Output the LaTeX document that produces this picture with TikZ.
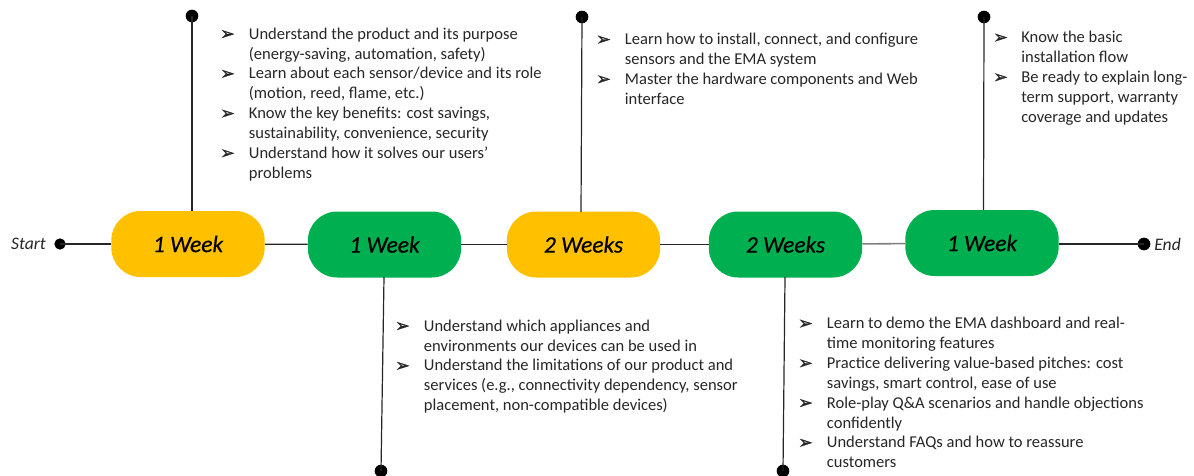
\documentclass[tikz,border=0pt]{standalone}
\usepackage{fontspec}
\setmainfont{Carlito}
\newfontfamily\dejavu[FakeBold=1.5]{DejaVu Sans}
\newfontfamily\pillfont[ItalicFont=Carlito Italic,ItalicFeatures={FakeBold=0.5}]{Carlito}
\newcommand{\blt}[1]{\makebox[#1][l]{\raisebox{-0.2pt}{\dejavu\fontsize{13}{10}\selectfont ➢}}}
\tikzset{x=0.75pt,y=-0.75pt,
  pill/.style={rounded corners=22pt,minimum width=115pt,minimum height=49.5pt,inner sep=0pt,font=\pillfont\fontsize{17.6}{20}\selectfont\itshape,text=black},
  gold/.style={pill,fill=goldc},
  green/.style={pill,fill=greenc},
  dotnode/.style={circle,fill=black,inner sep=0pt,minimum size=9.5pt},
  conn/.style={draw=linec,line width=0.9pt},
  tlabel/.style={inner sep=0pt,anchor=north west,align=left,font=\fontsize{12.4}{14.9}\selectfont,text=textc},
  endlabel/.style={inner sep=0pt,font=\fontsize{13.2}{15}\selectfont\itshape,text=textc}}
\definecolor{goldc}{HTML}{FFC000}
\definecolor{greenc}{HTML}{00B050}
\definecolor{linec}{HTML}{262626}
\definecolor{textc}{HTML}{262626}
\begin{document}
\begin{tikzpicture}
\useasboundingbox (0,0) rectangle (1194,475);
\node[gold] (p1) at (188,244) {1 Week};
\node[green] (p2) at (384.5,244.5) {1 Week};
\node[gold] (p3) at (583.5,244.5) {2 Weeks};
\node[green] (p4) at (785.5,244.5) {2 Weeks};
\node[green] (p5) at (982,243) {1 Week};
\node[dotnode,minimum size=8.5pt] (s) at (60,244) {};
\node[dotnode] (e) at (1144,244) {};
\node[dotnode] (d1) at (192,16) {};
\node[dotnode] (d3) at (582,17) {};
\node[dotnode] (d5) at (984,17) {};
\node[dotnode] (d2) at (381,471) {};
\node[dotnode] (d4) at (783,471) {};
\node[endlabel,anchor=east] (ls) at (46,244) {Start};
\node[endlabel,anchor=west] (le) at (1154,244) {End};
\coordinate (c1) at (192,211);
\coordinate (c2) at (384,277);
\coordinate (c3) at (581,212);
\coordinate (c4) at (785,277);
\coordinate (c5) at (983.5,210);
\draw[conn] (s.center) -- (p1.west |- s.center);
\draw[conn] (p1) -- (p2);
\draw[conn] (p2) -- (p3);
\draw[conn] (p3) -- (p4);
\draw[conn,draw=gray,line width=1.2pt] (p4) -- (p5);
\draw[conn] (p5.east |- e.center) -- (e.center);
\draw[conn] (d1.center) -- (c1);
\draw[conn] (d2.center) -- (c2);
\draw[conn] (d3.center) -- (c3);
\draw[conn] (d4.center) -- (c4);
\draw[conn] (d5.center) -- (c5);
\node[tlabel] (t1) at (220,27.5) {\blt{21.5pt}Understand the product and its purpose\\
\hspace*{21.5pt}(energy-saving, automation, safety)\\
\blt{21.5pt}Learn about each sensor/device and its role\\
\hspace*{21.5pt}(motion, reed, flame, etc.)\\
\blt{21.5pt}Know the key benefits: cost savings,\\
\hspace*{21.5pt}sustainability, convenience, security\\
\blt{21.5pt}Understand how it solves our users’\\
\hspace*{21.5pt}problems};
\node[tlabel] (t3) at (596,33) {\blt{21.5pt}Learn how to install, connect, and configure\\
\hspace*{21.5pt}sensors and the EMA system\\
\blt{21.5pt}Master the hardware components and Web\\
\hspace*{21.5pt}interface};
\node[tlabel] (t5) at (993,31) {\blt{21pt}Know the basic\\
\hspace*{21pt}installation flow\\
\blt{21pt}Be ready to explain long-\\
\hspace*{21pt}term support, warranty\\
\hspace*{21pt}coverage and updates};
\node[tlabel] (t2) at (395,319.5) {\blt{21.5pt}Understand which appliances and\\
\hspace*{21.5pt}environments our devices can be used in\\
\blt{21.5pt}Understand the limitations of our product and\\
\hspace*{21.5pt}services (e.g., connectivity dependency, sensor\\
\hspace*{21.5pt}placement, non-compatible devices)};
\node[tlabel] (t4) at (798,317) {\blt{21.5pt}Learn to demo the EMA dashboard and real-\\
\hspace*{21.5pt}time monitoring features\\
\blt{21.5pt}Practice delivering value-based pitches: cost\\
\hspace*{21.5pt}savings, smart control, ease of use\\
\blt{21.5pt}Role-play Q\&A scenarios and handle objections\\
\hspace*{21.5pt}confidently\\
\blt{21.5pt}Understand FAQs and how to reassure\\
\hspace*{21.5pt}customers};
\end{tikzpicture}
\end{document}
